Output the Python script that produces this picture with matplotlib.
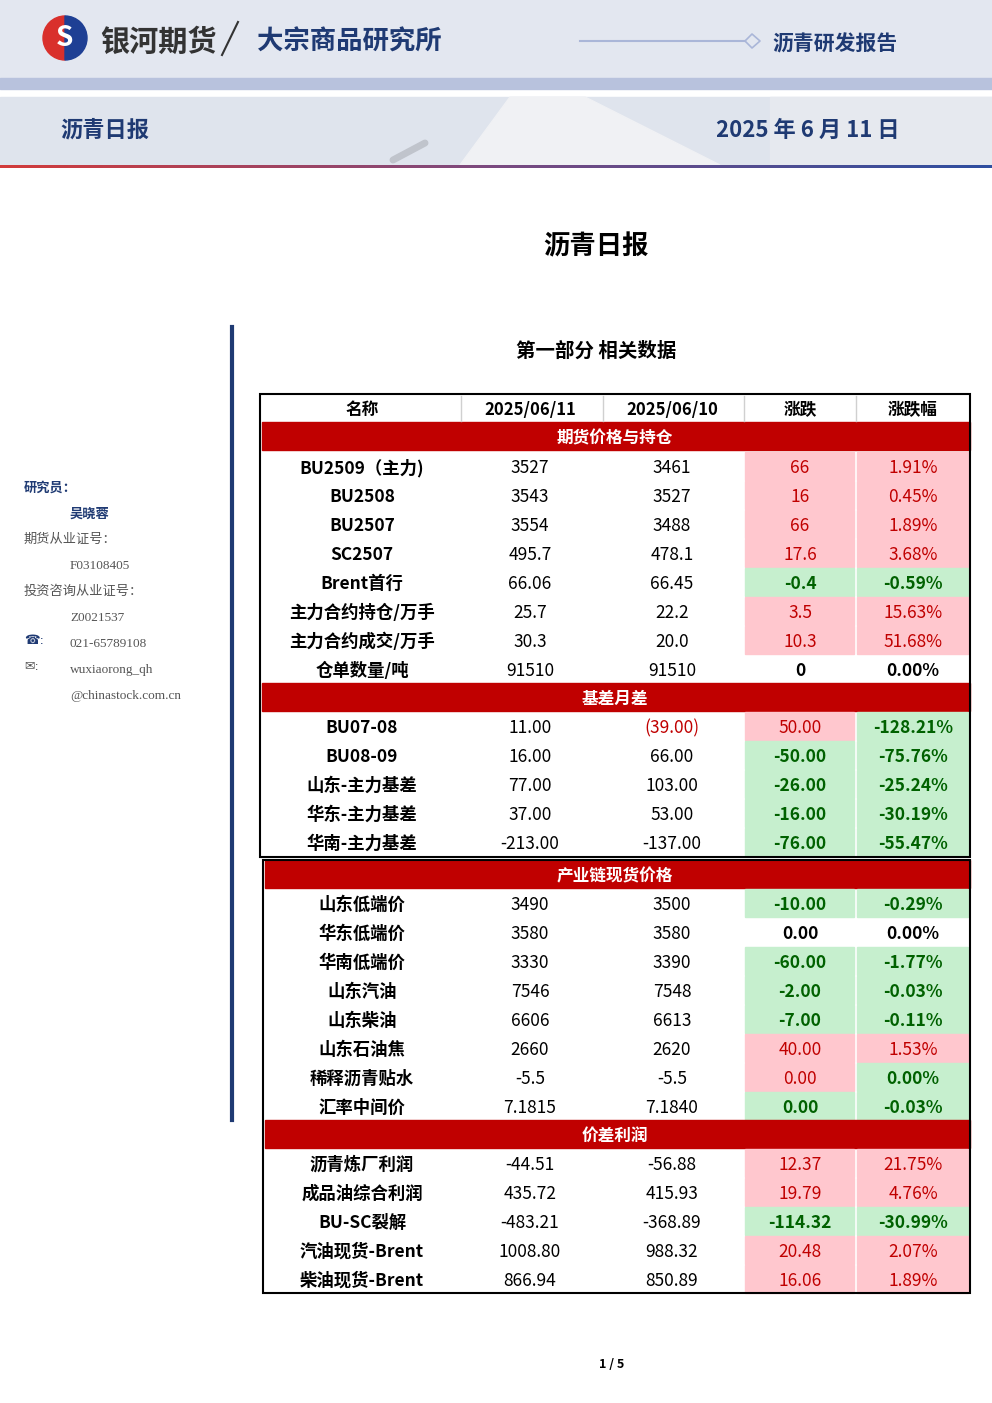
import matplotlib.pyplot as plt
from matplotlib.patches import Rectangle, Polygon, Wedge
from matplotlib.colors import LinearSegmentedColormap
import numpy as np

plt.rcParams['font.family'] = ['Noto Sans CJK SC', 'DejaVu Sans']

# ---- table data ----
columns = ["名称", "2025/06/11", "2025/06/10", "涨跌", "涨跌幅"]

sec1_title = "期货价格与持仓"
sec1_names = ["BU2509（主力)", "BU2508", "BU2507", "SC2507", "Brent首行",
              "主力合约持仓/万手", "主力合约成交/万手", "仓单数量/吨"]
sec1_today = ["3527", "3543", "3554", "495.7", "66.06", "25.7", "30.3", "91510"]
sec1_prev = ["3461", "3527", "3488", "478.1", "66.45", "22.2", "20.0", "91510"]
sec1_chg = ["66", "16", "66", "17.6", "-0.4", "3.5", "10.3", "0"]
sec1_pct = ["1.91%", "0.45%", "1.89%", "3.68%", "-0.59%", "15.63%", "51.68%", "0.00%"]

sec2_title = "基差月差"
sec2_names = ["BU07-08", "BU08-09", "山东-主力基差", "华东-主力基差", "华南-主力基差"]
sec2_today = ["11.00", "16.00", "77.00", "37.00", "-213.00"]
sec2_prev = ["(39.00)", "66.00", "103.00", "53.00", "-137.00"]
sec2_chg = ["50.00", "-50.00", "-26.00", "-16.00", "-76.00"]
sec2_pct = ["-128.21%", "-75.76%", "-25.24%", "-30.19%", "-55.47%"]

sec3_title = "产业链现货价格"
sec3_names = ["山东低端价", "华东低端价", "华南低端价", "山东汽油", "山东柴油",
              "山东石油焦", "稀释沥青贴水", "汇率中间价"]
sec3_today = ["3490", "3580", "3330", "7546", "6606", "2660", "-5.5", "7.1815"]
sec3_prev = ["3500", "3580", "3390", "7548", "6613", "2620", "-5.5", "7.1840"]
sec3_chg = ["-10.00", "0.00", "-60.00", "-2.00", "-7.00", "40.00", "0.00", "0.00"]
sec3_pct = ["-0.29%", "0.00%", "-1.77%", "-0.03%", "-0.11%", "1.53%", "0.00%", "-0.03%"]

sec4_title = "价差利润"
sec4_names = ["沥青炼厂利润", "成品油综合利润", "BU-SC裂解", "汽油现货-Brent", "柴油现货-Brent"]
sec4_today = ["-44.51", "435.72", "-483.21", "1008.80", "866.94"]
sec4_prev = ["-56.88", "415.93", "-368.89", "988.32", "850.89"]
sec4_chg = ["12.37", "19.79", "-114.32", "20.48", "16.06"]
sec4_pct = ["21.75%", "4.76%", "-30.99%", "2.07%", "1.89%"]

# cells whose colouring in the report differs from the sign rule
sign_override = {("稀释沥青贴水", 3): "up", ("稀释沥青贴水", 4): "down",
                 ("汇率中间价", 3): "down"}

sidebar = [("研究员：", True, 24), ("吴晓蓉", True, 70), ("期货从业证号：", False, 24),
           ("F03108405", False, 70), ("投资咨询从业证号：", False, 24),
           ("Z0021537", False, 70), ("021-65789108", False, 70),
           ("wuxiaorong_qh", False, 70), ("@chinastock.com.cn", False, 70)]

NAVY = "#1f3a73"
RED = "#c00000"
PINK = "#ffc7ce"
GREEN = "#c6efce"
DKGREEN = "#006100"
DY = 2  # baseline nudge for CJK text

fig = plt.figure(figsize=(9.92, 14.03), dpi=100)
ax = fig.add_axes([0, 0, 1, 1])
ax.set_xlim(0, 992)
ax.set_ylim(1403, 0)
ax.axis("off")

# ---- header ----
ax.add_patch(Rectangle((0, 0), 992, 78, color="#e3e7f0", zorder=0))
ax.add_patch(Rectangle((0, 78), 992, 11, color="#b8c2dd", zorder=0))
ax.add_patch(Rectangle((0, 97), 992, 68, color="#dfe4ed", zorder=0))
ax.add_patch(Polygon([[510, 97], [585, 97], [720, 165], [460, 165]], color="#f0f1f4", zorder=1))
ax.add_patch(Rectangle((770, 97), 222, 68, color="#e6e9ef", zorder=1))
ax.plot([393, 425], [160, 143], color="#c0c4cc", lw=5, solid_capstyle="round", zorder=2)
grad = np.linspace(0, 1, 200)[None, :]
cm = LinearSegmentedColormap.from_list("hb", ["#d23b3b", "#7a4a80", "#2f4fa0"])
ax.imshow(grad, cmap=cm, extent=[0, 992, 168, 165], aspect="auto", zorder=2)

ax.add_patch(Wedge((65, 38), 22, 90, 270, color="#d9302c", zorder=3))
ax.add_patch(Wedge((65, 38), 22, 270, 90, color="#1e3f94", zorder=3))
ax.text(65, 38, "S", color="white", fontsize=20, fontweight="bold", ha="center", va="center", zorder=4)
ax.text(100, 40 + DY, "银河期货", fontsize=21, fontweight="bold", color="#333333", va="center")
ax.plot([222, 238], [55, 22], color="#333333", lw=1.5)
ax.text(257, 40 + DY, "大宗商品研究所", fontsize=19, fontweight="bold", color=NAVY, va="center")
ax.plot([580, 745], [41, 41], color="#aab6d8", lw=1.5)
ax.plot([745, 752, 760, 752, 745], [41, 34, 41, 48, 41], color="#aab6d8", lw=1.2)
ax.text(772, 42 + DY, "沥青研发报告", fontsize=15, fontweight="bold", color=NAVY, va="center")
ax.text(60, 128 + DY, "沥青日报", fontsize=16, fontweight="bold", color=NAVY, va="center")
ax.text(900, 128 + DY, "2025 年 6 月 11 日", fontsize=16, fontweight="bold", color=NAVY, va="center", ha="right")

ax.text(596, 245 + DY, "沥青日报", fontsize=19, fontweight="bold", ha="center", va="center")
ax.text(596, 349 + DY, "第一部分 相关数据", fontsize=14, fontweight="bold", ha="center", va="center")

# ---- sidebar ----
ax.plot([232, 232], [327, 1120], color=NAVY, lw=3)
for i, (txt, bold, x) in enumerate(sidebar):
    ax.text(x, 486 + 26 * i + DY, txt, fontsize=9.5, va="center",
            fontweight="bold" if bold else "normal",
            color=NAVY if bold else "#555555",
            family=["Liberation Serif", "Noto Sans CJK SC"] if not bold else None)
ax.text(24, 641, "☎:", fontsize=9, va="center", color=NAVY, family=["DejaVu Sans"])
ax.text(24, 667, "✉:", fontsize=9, va="center", color="#555555", family=["DejaVu Sans"])

# ---- table ----
col_edges = [260, 461, 603, 744, 856, 970]
col_centers = [362, 530, 672, 800, 913]
ROW = 29


def band(y, title, x0):
    ax.add_patch(Rectangle((x0, y - 14), 970 - x0, 28, color=RED, zorder=1))
    ax.text(615, y + DY, title, color="white", fontsize=12, fontweight="bold", ha="center", va="center", zorder=3)


def rows(y0, names, today, prev, chg, pct):
    for i, name in enumerate(names):
        y = y0 + i * ROW
        vals = [name, today[i], prev[i], chg[i], pct[i]]
        for j, v in enumerate(vals):
            color, weight = "black", "normal"
            if j == 0:
                weight = "bold"
            if j == 2 and v.startswith("("):
                color = RED
            if j >= 3:
                num = float(v.strip("%"))
                kind = "up" if num > 0 else ("down" if num < 0 else "flat")
                kind = sign_override.get((name, j), kind)
                if kind == "up":
                    fill, color = PINK, RED
                elif kind == "down":
                    fill, color, weight = GREEN, DKGREEN, "bold"
                else:
                    fill, weight = None, "bold"
                if fill:
                    ax.add_patch(Rectangle((col_edges[j] + 1, y - 14), col_edges[j + 1] - col_edges[j] - 3,
                                           28, color=fill, zorder=1))
            ax.text(col_centers[j], y + DY, v, fontsize=12.5, ha="center", va="center",
                    color=color, fontweight=weight, zorder=3)


# header row
for j, c in enumerate(columns):
    ax.text(col_centers[j], 408 + DY, c, fontsize=12, fontweight="bold", ha="center", va="center")
for x in col_edges[1:-1]:
    ax.plot([x, x], [396, 421], color="#d0d0d0", lw=1)

band(436, sec1_title, 262)
rows(466, sec1_names, sec1_today, sec1_prev, sec1_chg, sec1_pct)
band(697, sec2_title, 262)
rows(726, sec2_names, sec2_today, sec2_prev, sec2_chg, sec2_pct)
ax.add_patch(Rectangle((260, 394), 710, 463, fill=False, ec="black", lw=1.5, zorder=4))

band(874, sec3_title, 265)
rows(903, sec3_names, sec3_today, sec3_prev, sec3_chg, sec3_pct)
band(1134, sec4_title, 265)
rows(1163, sec4_names, sec4_today, sec4_prev, sec4_chg, sec4_pct)
ax.add_patch(Rectangle((263, 860), 707, 433, fill=False, ec="black", lw=1.5, zorder=4))

ax.text(612, 1364, "1 / 5", fontsize=9, fontweight="bold", ha="center", va="center")

fig.savefig("out.png", dpi=100)
